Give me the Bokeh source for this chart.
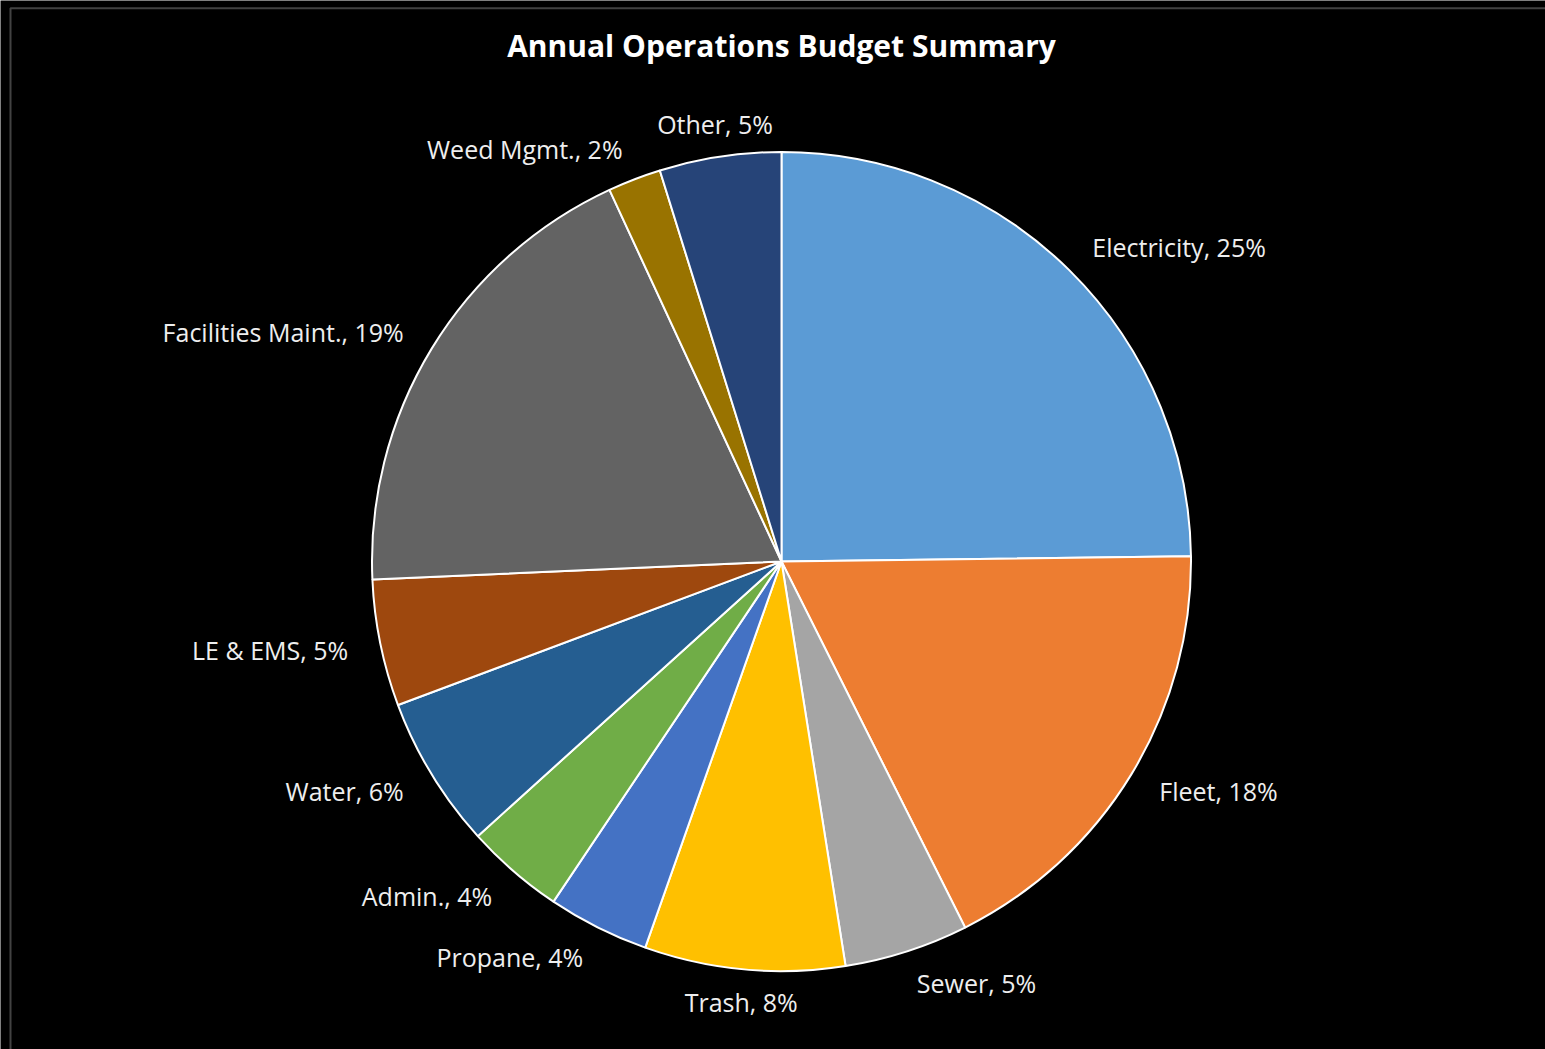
import math
from bokeh.plotting import figure
from bokeh.models import ColumnDataSource, Range1d, Label, BoxAnnotation
from bokeh.embed import file_html
from bokeh.resources import INLINE

# ---- data ----
categories = ["Electricity", "Fleet", "Sewer", "Trash", "Propane", "Admin.",
              "Water", "LE & EMS", "Facilities Maint.", "Weed Mgmt.", "Other"]
shares = [24.8, 17.8, 4.9, 7.9, 4.0, 3.9, 6.0, 5.0, 18.8, 2.1, 4.8]
colors = ["#5B9BD5", "#ED7D31", "#A5A5A5", "#FFC000", "#4472C4", "#70AD47",
          "#255E91", "#9E480E", "#636363", "#997300", "#264478"]
title_text = "Annual Operations Budget Summary"

# ---- layout (1 data unit = 1 screen pixel) ----
W, H = 1545, 1049
cx, cy, R = 781, H - 561, 409.5
FONT = "Open Sans"

total = sum(shares)
starts, ends, mids = [], [], []
acc = 0.0
for s in shares:
    a0 = acc / total * 2 * math.pi          # clockwise from 12 o'clock
    acc += s
    a1 = acc / total * 2 * math.pi
    starts.append(math.pi / 2 - a0)
    ends.append(math.pi / 2 - a1)
    mids.append((a0 + a1) / 2)

src = ColumnDataSource(dict(cat=categories, share=shares, color=colors,
                            start=starts, end=ends))

p = figure(width=W, height=H, output_backend="svg", toolbar_location=None,
           x_range=Range1d(0, W), y_range=Range1d(0, H), min_border=0)
p.axis.visible = False
p.grid.visible = False
p.background_fill_color = "black"
p.border_fill_color = "black"
p.outline_line_color = None

# chart-area border (only its top and left edges fall inside the view)
p.add_layout(BoxAnnotation(left=10, right=W + 20, top=H - 7.7, bottom=-20,
                           fill_alpha=0, line_color="#D9D9D9", line_width=2))

p.wedge(x=cx, y=cy, radius=R, start_angle="start", end_angle="end",
        direction="clock", fill_color="color", line_color="white",
        line_width=2, source=src)

# data labels
for cat, s, m in zip(categories, shares, mids):
    rl = R * 1.08
    lx = cx + rl * math.sin(m)
    ly = cy + rl * math.cos(m)
    sn = math.sin(m)
    if sn > 0.2:
        align = "left"
    elif sn < -0.2:
        align = "right"
    else:
        align = "center"
    pct = round(s / total * 100)
    p.add_layout(Label(x=lx, y=ly, text=f"{cat}, {pct}%", text_align=align,
                       text_baseline="middle", text_color="#EEEEEE",
                       text_font=FONT, text_font_size="25px"))

# title
p.add_layout(Label(x=cx, y=H - 45, text=title_text, text_align="center",
                   text_baseline="middle", text_color="white",
                   text_font=FONT, text_font_style="bold", text_font_size="30px"))

open("out.html", "w").write(file_html(p, INLINE))
